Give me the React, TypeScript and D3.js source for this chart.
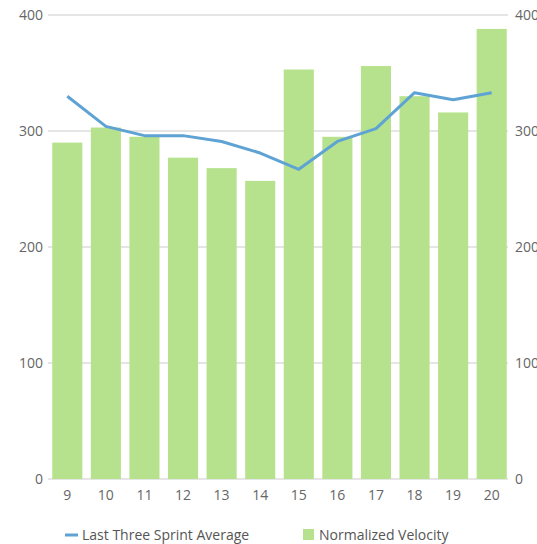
import React from "react";
import * as d3 from "d3";

const sprints = ["9", "10", "11", "12", "13", "14", "15", "16", "17", "18", "19", "20"];
const velocity = [290, 303, 295, 277, 268, 257, 353, 295, 356, 330, 316, 388];
const threeSprintAvg = [330, 304, 296, 296, 291, 281, 267, 291, 302, 333, 327, 333];
const yTicks = [0, 100, 200, 300, 400];

const W = 537;
const H = 544;
const left = 48;
const right = 511;
const top = 15;
const bottom = 479;
const font = "'Open Sans', sans-serif";
const textColor = "#666";

export default function App() {
  const x = d3.scaleBand<string>().domain(sprints).range([left, right]).paddingInner(0.22).paddingOuter(0.11);
  const y = d3.scaleLinear().domain([0, 400]).range([bottom, top]);
  const line = d3
    .line<number>()
    .x((_, i) => (x(sprints[i]) as number) + x.bandwidth() / 2)
    .y((d) => y(d));

  return (
    <svg width={W} height={H} style={{ position: "absolute", left: 0, top: 0 }} fontFamily={font}>
      {yTicks.map((t) => (
        <g key={t}>
          <line x1={left} x2={508} y1={y(t)} y2={y(t)} stroke="#dcdcdc" strokeWidth={1.5} />
          <text x={43} y={y(t)} dy="0.35em" textAnchor="end" fontSize={14} fill={textColor}>
            {t}
          </text>
          <text x={515} y={y(t)} dy="0.35em" textAnchor="start" fontSize={14} fill={textColor}>
            {t}
          </text>
        </g>
      ))}
      {velocity.map((v, i) => (
        <rect
          key={i}
          x={x(sprints[i])}
          y={y(v)}
          width={x.bandwidth()}
          height={y(0) - y(v)}
          fill="#b7e28d"
        />
      ))}
      <path d={line(threeSprintAvg) || ""} fill="none" stroke="#5fa3d4" strokeWidth={3} strokeLinejoin="round" />
      {sprints.map((s) => (
        <text
          key={s}
          x={(x(s) as number) + x.bandwidth() / 2}
          y={495}
          dy="0.35em"
          textAnchor="middle"
          fontSize={14}
          fill={textColor}
        >
          {s}
        </text>
      ))}
      <g>
        <line x1={65} x2={78} y1={535} y2={535} stroke="#5fa3d4" strokeWidth={3} />
        <text x={82} y={535} dy="0.35em" fontSize={14} fill="#555">
          Last Three Sprint Average
        </text>
        <rect x={303} y={529} width={11} height={11} fill="#b7e28d" />
        <text x={319} y={535} dy="0.35em" fontSize={14} fill="#555">
          Normalized Velocity
        </text>
      </g>
    </svg>
  );
}
